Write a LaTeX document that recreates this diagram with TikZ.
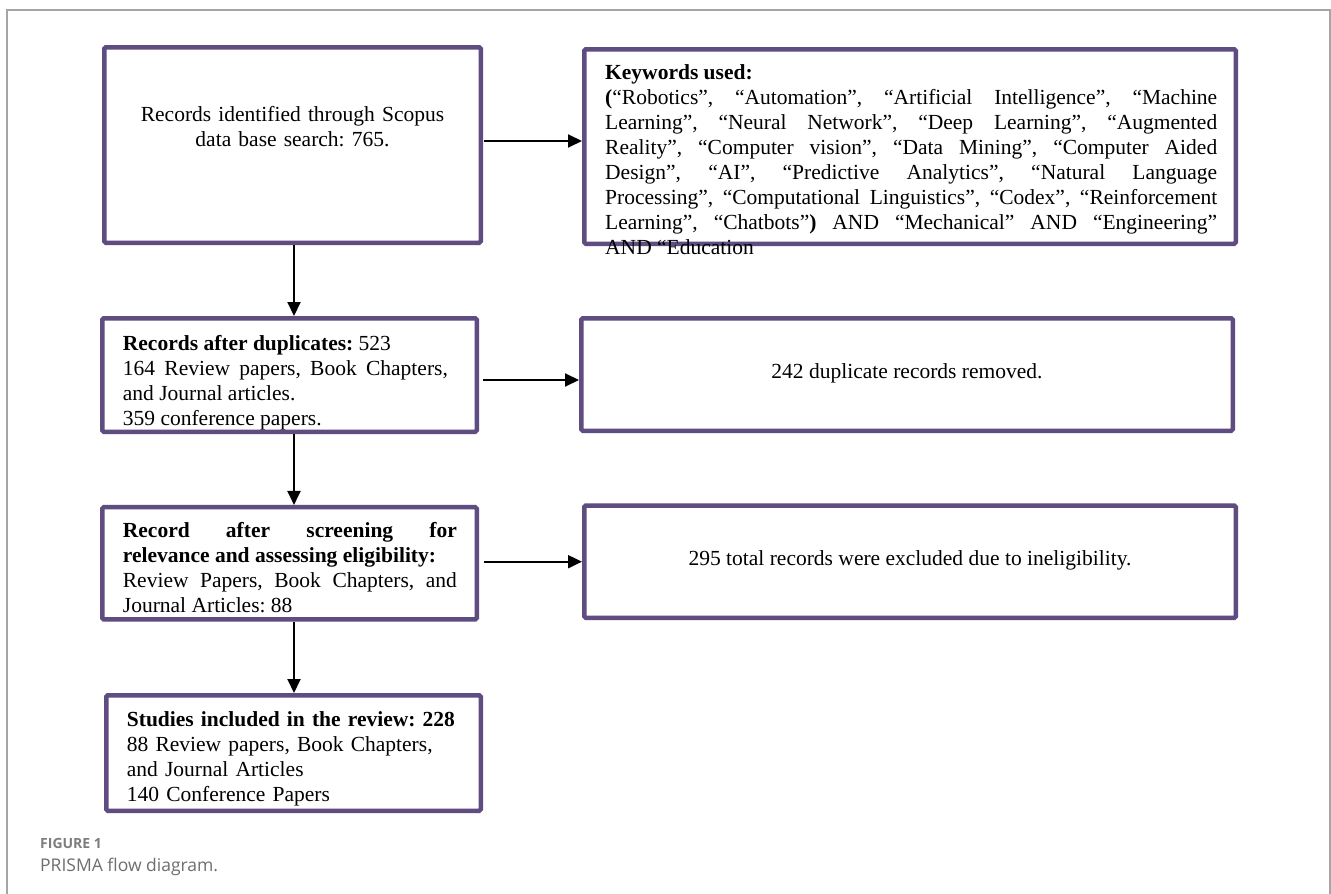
\documentclass[tikz,border=0pt]{standalone}
\usepackage{fontspec}
\setmainfont{Liberation Serif}
\newfontfamily\capfont{Open Sans}
\usetikzlibrary{arrows.meta}
\definecolor{boxpurple}{RGB}{95,76,128}
\definecolor{framegray}{RGB}{165,165,165}
\definecolor{capgray}{RGB}{125,125,125}
\definecolor{captxt}{RGB}{110,110,110}
\frenchspacing
\begin{document}
\begin{tikzpicture}[x=1pt,y=-1pt,
  box/.style={draw=boxpurple, line width=4.5pt, fill=white, rounded corners=1.5pt, inner sep=0pt},
  txt/.style={inner sep=0pt, font=\fontsize{21.5}{25}\selectfont, anchor=north west, align=justify},
  arr/.style={line width=2pt, -{Triangle[length=14pt,width=13pt]}}]
\fill[white] (0,0) rectangle (1331,894);
\useasboundingbox (0,0) rectangle (1331,894);
\draw[framegray, line width=1.2pt] (7,894) -- (7,10) -- (1330,10) -- (1330,894);

% boxes
\node[box, minimum width=376.5pt, minimum height=195.5pt] (b1) at (292.5,145) {};
\node[box, minimum width=651.5pt, minimum height=194.5pt] (kw) at (910,146.5) {};
\node[box, minimum width=374.5pt, minimum height=113.5pt] (b3) at (289.5,375) {};
\node[box, minimum width=651.5pt, minimum height=112.5pt] (b4) at (907,374.5) {};
\node[box, minimum width=374.5pt, minimum height=112.2pt] (b5) at (289.5,563.3) {};
\node[box, minimum width=651.5pt, minimum height=112.2pt] (b6) at (910,561.7) {};
\node[box, minimum width=374.5pt, minimum height=115.5pt] (b7) at (293.5,753) {};

% texts
\node[txt, anchor=north, align=center, text width=360pt] (t1) at (292.5,103.3)
  {\strut Records identified through Scopus\\data base search: 765.};
\node[txt, text width=612pt] (tk) at (605,62)
  {\noindent\strut\textbf{Keywords used:}\newline
  \textbf{(}“Robotics”, “Automation”, “Artificial Intelligence”, “Machine\linebreak
  Learning”, “Neural Network”, “Deep Learning”, “Augmented\linebreak
  Reality”, “Computer vision”, “Data Mining”, “Computer Aided\linebreak
  Design”, “AI”, “Predictive Analytics”, “Natural Language\linebreak
  Processing”, “Computational Linguistics”, “Codex”, “Reinforcement\linebreak
  Learning”, “Chatbots”\textbf{)} AND “Mechanical” AND “Engineering”\linebreak
  AND “Education};
\node[txt, text width=325pt] (t3) at (122.7,332.3)
  {\noindent\strut\textbf{Records after duplicates:} 523\newline
  164 Review papers, Book Chapters,\linebreak
  and Journal articles.\newline
  359 conference papers.};
\node[txt, anchor=base] (t4) at (907,378) {242 duplicate records removed.};
\node[txt, text width=334pt] (t5) at (122.7,520)
  {\noindent\strut\textbf{Record after screening for}\linebreak
  \textbf{relevance and assessing eligibility:}\newline
  Review Papers, Book Chapters, and\linebreak
  Journal Articles: 88};
\node[txt, anchor=base] (t6) at (910,565) {295 total records were excluded due to ineligibility.};
\node[txt, text width=345pt, align=left] (t7) at (126.7,709)
  {\strut\textbf{Studies included in the review: 228}\\
  88 Review papers, Book Chapters,\\
  and Journal Articles\\
  140 Conference Papers};

% caption
\node[inner sep=0pt, anchor=west, font=\capfont\bfseries\fontsize{14}{16}\selectfont, text=capgray] (cap1) at (40,843.3) {FIGURE 1};
\node[inner sep=0pt, anchor=west, font=\capfont\fontsize{17.5}{20}\selectfont, text=captxt] (cap2) at (40,866.7) {PRISMA flow diagram.};

% arrows
\draw[arr] ([xshift=1pt,yshift=4pt]b1.east) -- ([yshift=4pt]b1.east -| kw.west);
\draw[arr] ([xshift=4pt,yshift=-5pt]b3.east) -- ([yshift=-5pt]b3.east -| b4.west);
\draw[arr] ([xshift=4.5pt,yshift=1.6pt]b5.east) -- ([yshift=1.6pt]b5.east -| b6.west);
\draw[arr] ([xshift=1.5pt]b1.south) -- ([xshift=1.5pt]b1.south |- b3.north);
\draw[arr] ([xshift=4.5pt]b3.south) -- ([xshift=4.5pt]b3.south |- b5.north);
\draw[arr] ([xshift=4.5pt]b5.south) -- ([xshift=4.5pt]b5.south |- b7.north);
\end{tikzpicture}
\end{document}
